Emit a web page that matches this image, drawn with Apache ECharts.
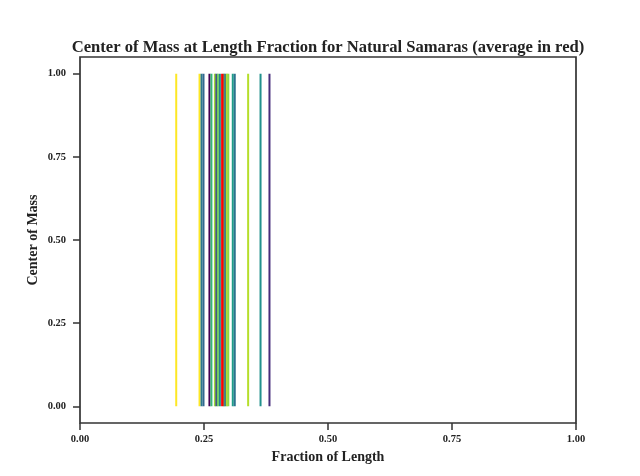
<!DOCTYPE html>
<html><head><meta charset="utf-8">
<script src="https://cdn.jsdelivr.net/npm/echarts@6/dist/echarts.min.js"></script>
<style>html,body{margin:0;padding:0;background:#fff}#c{width:640px;height:476px}</style>
</head><body><div id="c"></div>
<script>
const positions = [0.194, 0.241, 0.245, 0.249, 0.261, 0.265, 0.272, 0.275, 0.278, 0.282, 0.290, 0.293, 0.296, 0.299, 0.308, 0.312, 0.339, 0.364, 0.382];
const lineColors = ['#fde725', '#fde725', '#2a788e', '#31688e', '#440154', '#35b779', '#a0da39', '#3e4989', '#6ece58', '#26828e', '#4ac16d', '#31688e', '#b5de2b', '#8fd744', '#1f9e89', '#2c728e', '#b5de2b', '#21918c', '#472d7b'];
const average = 0.287;
const yTicks = [0, 0.25, 0.5, 0.75, 1];
const xTicks = [0, 0.25, 0.5, 0.75, 1];

const serif = 'Liberation Serif, DejaVu Serif, serif';
const series = positions.map((p, i) => ({
  type: 'line', silent: true, symbol: 'none', animation: false,
  data: [[p, 0], [p, 1]],
  lineStyle: { color: lineColors[i], width: 2 }
}));
series.push({
  type: 'line', silent: true, symbol: 'none', animation: false, z: 5,
  data: [[average, 0], [average, 1]],
  lineStyle: { color: '#ff0000', width: 2.5 }
});

const chart = echarts.init(document.getElementById('c'));
chart.setOption({
  backgroundColor: '#fff',
  animation: false,
  title: {
    text: 'Center of Mass at Length Fraction for Natural Samaras (average in red)',
    left: 323, top: 34, textAlign: 'center',
    textStyle: { fontFamily: serif, fontWeight: 'bold', fontSize: 16.6, color: '#222' }
  },
  grid: { left: 80, right: 64, top: 57, bottom: 53, show: true, borderColor: '#333', borderWidth: 1.7, backgroundColor: 'transparent' },
  xAxis: {
    type: 'value', min: 0, max: 1,
    axisLine: { show: false, onZero: false },
    splitLine: { show: false },
    axisTick: { show: true, length: 7, lineStyle: { color: '#333', width: 1.5 }, customValues: xTicks },
    axisLabel: { customValues: xTicks, formatter: v => v.toFixed(2), fontFamily: serif, fontWeight: 'bold', fontSize: 10.5, color: '#222', margin: 11 },
    name: 'Fraction of Length', nameLocation: 'middle', nameGap: 27, nameMoveOverlap: false,
    nameTextStyle: { fontFamily: serif, fontWeight: 'bold', fontSize: 14, color: '#222' }
  },
  yAxis: {
    type: 'value', min: -0.05, max: 1.05,
    axisLine: { show: false, onZero: false },
    splitLine: { show: false },
    axisTick: { show: true, length: 7, lineStyle: { color: '#333', width: 1.5 }, customValues: yTicks },
    axisLabel: { customValues: yTicks, formatter: v => v.toFixed(2), fontFamily: serif, fontWeight: 'bold', fontSize: 10.5, color: '#222', margin: 14 },
    name: 'Center of Mass', nameLocation: 'middle', nameGap: 39.5, nameMoveOverlap: false,
    nameTextStyle: { fontFamily: serif, fontWeight: 'bold', fontSize: 14, color: '#222' }
  },
  series: series
});
</script></body></html>
